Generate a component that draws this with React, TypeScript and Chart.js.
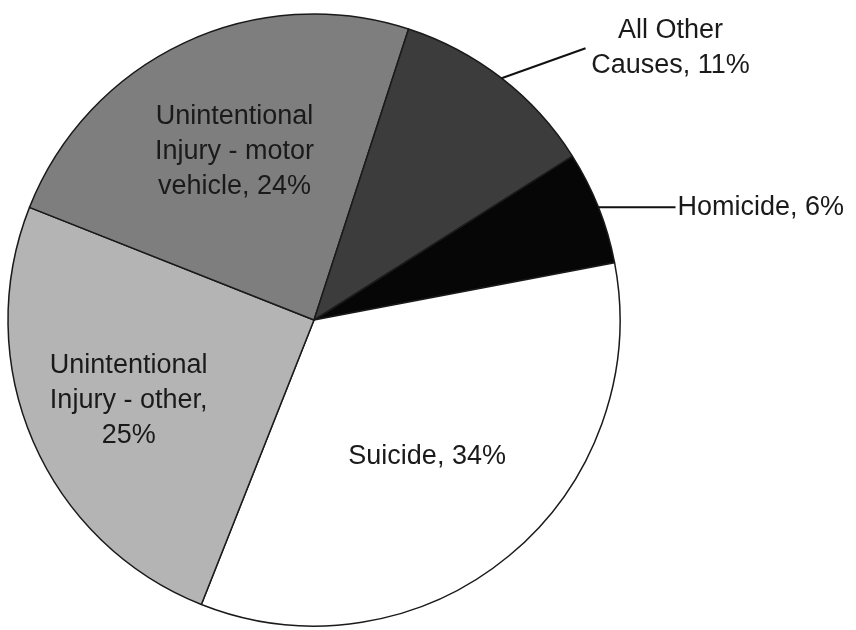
import React, { useEffect, useRef } from "react";
import { Chart, registerables } from "chart.js";

Chart.register(...registerables);

const categories = [
  "Homicide",
  "Suicide",
  "Unintentional Injury - other",
  "Unintentional Injury - motor vehicle",
  "All Other Causes",
];
const values = [6, 34, 25, 24, 11];
const labelLines = [
  ["Homicide, 6%"],
  ["Suicide, 34%"],
  ["Unintentional", "Injury - other,", "25%"],
  ["Unintentional", "Injury - motor", "vehicle, 24%"],
  ["All Other", "Causes, 11%"],
];
const sliceColors = ["#060606", "#ffffff", "#b4b4b4", "#7e7e7e", "#3c3c3c"];

// label placement styles: inside (fraction of radius) or outside with leader line
const labelStyles: any[] = [
  { type: "outside", lx: 77, ly: 0, align: "left", tx: 2, ty: 0 },
  { type: "inside", frac: 0.58 },
  { type: "inside", frac: 0.66 },
  { type: "inside", frac: 0.61 },
  { type: "outside", lx: 84, ly: -30, align: "center", tx: 85, ty: 0 },
];

const FONT = '27px "Liberation Sans", Arial, sans-serif';
const LINE_H = 35;

const labelPlugin = {
  id: "sliceLabels",
  afterDatasetsDraw(chart: any) {
    const ctx = chart.ctx;
    const meta = chart.getDatasetMeta(0);
    ctx.save();
    ctx.font = FONT;
    ctx.fillStyle = "#1a1a1a";
    ctx.textBaseline = "middle";
    meta.data.forEach((arc: any, i: number) => {
      const p = arc.getProps(["x", "y", "startAngle", "endAngle", "outerRadius"], true);
      const mid = (p.startAngle + p.endAngle) / 2;
      const st = labelStyles[i];
      const lines = labelLines[i];
      if (st.type === "inside") {
        const cx = p.x + Math.cos(mid) * p.outerRadius * st.frac;
        const cy = p.y + Math.sin(mid) * p.outerRadius * st.frac;
        ctx.textAlign = "center";
        const y0 = cy - ((lines.length - 1) * LINE_H) / 2;
        lines.forEach((t: string, k: number) => ctx.fillText(t, cx, y0 + k * LINE_H));
      } else {
        const ex = p.x + Math.cos(mid) * p.outerRadius;
        const ey = p.y + Math.sin(mid) * p.outerRadius;
        const jx = ex + st.lx;
        const jy = ey + st.ly;
        ctx.strokeStyle = "#111";
        ctx.lineWidth = 2;
        ctx.beginPath();
        ctx.moveTo(ex, ey);
        ctx.lineTo(jx, jy);
        ctx.stroke();
        ctx.textAlign = st.align;
        const cx = jx + st.tx;
        const cy = jy + st.ty;
        const y0 = cy - ((lines.length - 1) * LINE_H) / 2;
        lines.forEach((t: string, k: number) => ctx.fillText(t, cx, y0 + k * LINE_H));
      }
    });
    ctx.restore();
  },
};

export default function App() {
  const ref = useRef<HTMLCanvasElement | null>(null);
  useEffect(() => {
    if (!ref.current) return;
    const chart = new Chart(ref.current, {
      type: "pie",
      data: {
        labels: categories,
        datasets: [
          {
            data: values,
            backgroundColor: sliceColors,
            borderColor: "#1a1a1a",
            borderWidth: 1.5,
          },
        ],
      },
      options: {
        animation: false,
        responsive: false,
        devicePixelRatio: 1,
        rotation: 57.6,
        radius: 306,
        layout: { padding: { left: 8, right: 236, top: 14, bottom: 4 } },
        plugins: {
          legend: { display: false },
          tooltip: { enabled: false },
        },
      },
      plugins: [labelPlugin],
    });
    return () => chart.destroy();
  }, []);
  return (
    <div style={{ position: "absolute", left: 0, top: 0, width: 856, height: 630, background: "#ffffff" }}>
      <canvas ref={ref} width={856} height={630} />
    </div>
  );
}
